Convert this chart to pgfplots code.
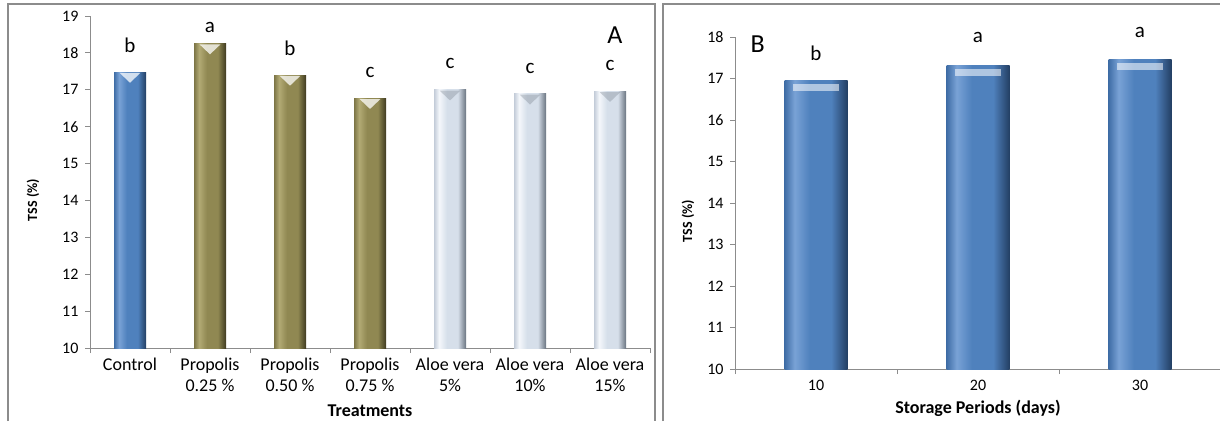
\documentclass[border=0pt]{standalone}
\usepackage{pgfplots}
\pgfplotsset{compat=1.18}
\usepackage{fontspec}
\setmainfont{Carlito}

\definecolor{bluee}{HTML}{3F6DA6}
\definecolor{blueh}{HTML}{79A2D6}
\definecolor{blueb}{HTML}{4F81BD}
\definecolor{blued}{HTML}{233F63}
\definecolor{olivee}{HTML}{7C7546}
\definecolor{oliveh}{HTML}{B2AA74}
\definecolor{oliveb}{HTML}{908852}
\definecolor{olived}{HTML}{3E3A20}
\definecolor{aloee}{HTML}{C3CCD8}
\definecolor{aloeh}{HTML}{F4F7FB}
\definecolor{aloeb}{HTML}{D6DFEA}
\definecolor{aloed}{HTML}{6A7480}
\definecolor{framec}{HTML}{8C8C8C}
\definecolor{axisc}{HTML}{8C8C8C}

\pgfdeclarehorizontalshading{shblue}{100bp}{color(0bp)=(bluee); color(25bp)=(bluee); color(33bp)=(blueh); color(45bp)=(blueb); color(62bp)=(blueb); color(75bp)=(blued); color(100bp)=(blued)}
\pgfdeclarehorizontalshading{sholive}{100bp}{color(0bp)=(olivee); color(25bp)=(olivee); color(33bp)=(oliveh); color(45bp)=(oliveb); color(62bp)=(oliveb); color(75bp)=(olived); color(100bp)=(olived)}
\pgfdeclarehorizontalshading{shaloe}{100bp}{color(0bp)=(aloee); color(25bp)=(aloee); color(33bp)=(aloeh); color(45bp)=(aloeb); color(62bp)=(aloeb); color(75bp)=(aloed); color(100bp)=(aloed)}

\begin{document}
\begin{tikzpicture}
\path[use as bounding box] (0pt,-421pt) rectangle (1220pt,0pt);
% frames
\draw[framec, line width=1.6pt] (8pt,-421pt) -- (8pt,-4pt) -- (655pt,-4pt) -- (655pt,-421pt);
\draw[framec, line width=1.6pt] (663pt,-421pt) -- (663pt,-4pt) -- (1221pt,-4pt);

\pgfplotsset{
  common/.style={
    scale only axis,
    axis lines*=left,
    axis line style={axisc, line width=1pt},
    tick align=outside,
    tick style={axisc, line width=1pt},
    major tick length=5pt,
    ybar, bar shift=0pt,
    /pgf/number format/assume math mode=true,
    yticklabel style={font=\fontsize{16}{18}\selectfont, xshift=-3pt},
    xticklabels={},
    clip=false,
  }
}

\begin{axis}[common,
  at={(90pt,-348pt)}, anchor=south west,
  width=560pt, height=332pt,
  xmin=-0.5, xmax=6.5, ymin=10, ymax=19,
  ytick={10,...,19},
  xtick={-0.5,0.5,...,6.5},
  extra x ticks={0,1,2,3,4,5,6},
  extra x tick labels={Control,{Propolis\\0.25 \%},{Propolis\\0.50 \%},{Propolis\\0.75 \%},{Aloe vera\\5\%},{Aloe vera\\10\%},{Aloe vera\\15\%}},
  extra x tick style={major tick length=0pt, tick label style={align=center, font=\fontsize{18}{21}\selectfont, yshift=-6pt}},
  bar width=32pt,
  ylabel={TSS (\%)},
  ylabel style={at={(axis description cs:-0.102,0.446)}, anchor=center, rotate=0, font=\bfseries\fontsize{14}{16}\selectfont},
  xlabel={Treatments},
  xlabel style={at={(axis description cs:0.5,-0.188)}, anchor=center, font=\bfseries\fontsize{18}{20}\selectfont},
]
% Control
\addplot[draw=none, shading=shblue] coordinates {(0,17.48)};
% Propolis
\addplot[draw=none, shading=sholive] coordinates {(1,18.25)};
\addplot[draw=none, shading=sholive] coordinates {(2,17.40)};
\addplot[draw=none, shading=sholive] coordinates {(3,16.77)};
% Aloe vera
\addplot[draw=none, shading=shaloe] coordinates {(4,17.00)};
\addplot[draw=none, shading=shaloe] coordinates {(5,16.89)};
\addplot[draw=none, shading=shaloe] coordinates {(6,16.96)};
% top bevel highlights
\addplot[only marks, draw=none, mark=triangle*, mark size=12pt,
  mark options={rotate=180, yscale=0.55, draw opacity=0, fill=white, fill opacity=0.75}]
  coordinates {(0,17.37) (1,18.14) (2,17.29) (3,16.66)};
\addplot[only marks, draw=none, mark=triangle*, mark size=12pt,
  mark options={rotate=180, yscale=0.55, draw opacity=0, fill=aloed, fill opacity=0.3}]
  coordinates {(4,16.89) (5,16.78) (6,16.85)};
\begin{scope}[font=\fontsize{21}{24}\selectfont]
\node at (axis cs:0,18.21) {b};
\node at (axis cs:1,18.70) {a};
\node at (axis cs:2,18.13) {b};
\node at (axis cs:3,17.47) {c};
\node at (axis cs:4,17.72) {c};
\node at (axis cs:5,17.58) {c};
\node at (axis cs:6,17.66) {c};
\end{scope}
\node[font=\fontsize{26}{28}\selectfont] at (axis cs:6.06,18.48) {A};
\end{axis}

\begin{axis}[common,
  at={(735pt,-369pt)}, anchor=south west,
  width=486pt, height=332pt,
  xmin=-0.5, xmax=2.5, ymin=10, ymax=18,
  ytick={10,...,18},
  xtick={-0.5,0.5,1.5,2.5},
  extra x ticks={0,1,2},
  extra x tick labels={10,20,30},
  extra x tick style={major tick length=0pt, tick label style={font=\fontsize{16}{18}\selectfont, yshift=-8pt}},
  bar width=63pt,
  ylabel={TSS (\%)},
  ylabel style={at={(axis description cs:-0.097,0.446)}, anchor=center, rotate=0, font=\bfseries\fontsize{14}{16}\selectfont},
  xlabel={Storage Periods (days)},
  xlabel style={at={(axis description cs:0.5,-0.117)}, anchor=center, font=\bfseries\fontsize{18}{20}\selectfont},
]
\addplot[draw=none, shading=shblue] coordinates {(0,16.95)};
\addplot[draw=none, shading=shblue] coordinates {(1,17.31)};
\addplot[draw=none, shading=shblue] coordinates {(2,17.46)};
% top bevel band
\addplot[only marks, draw=none, mark=square*, mark size=3.5pt,
  mark options={xscale=6.6, draw opacity=0, fill=white, fill opacity=0.55}]
  coordinates {(0,16.79) (1,17.15) (2,17.30)};
\begin{scope}[font=\fontsize{21}{24}\selectfont]
\node at (axis cs:0,17.61) {b};
\node at (axis cs:1,17.98) {a};
\node at (axis cs:2,18.12) {a};
\end{scope}
\node[font=\fontsize{26}{28}\selectfont] at (axis cs:-0.36,17.83) {B};
\end{axis}
\end{tikzpicture}
\end{document}
